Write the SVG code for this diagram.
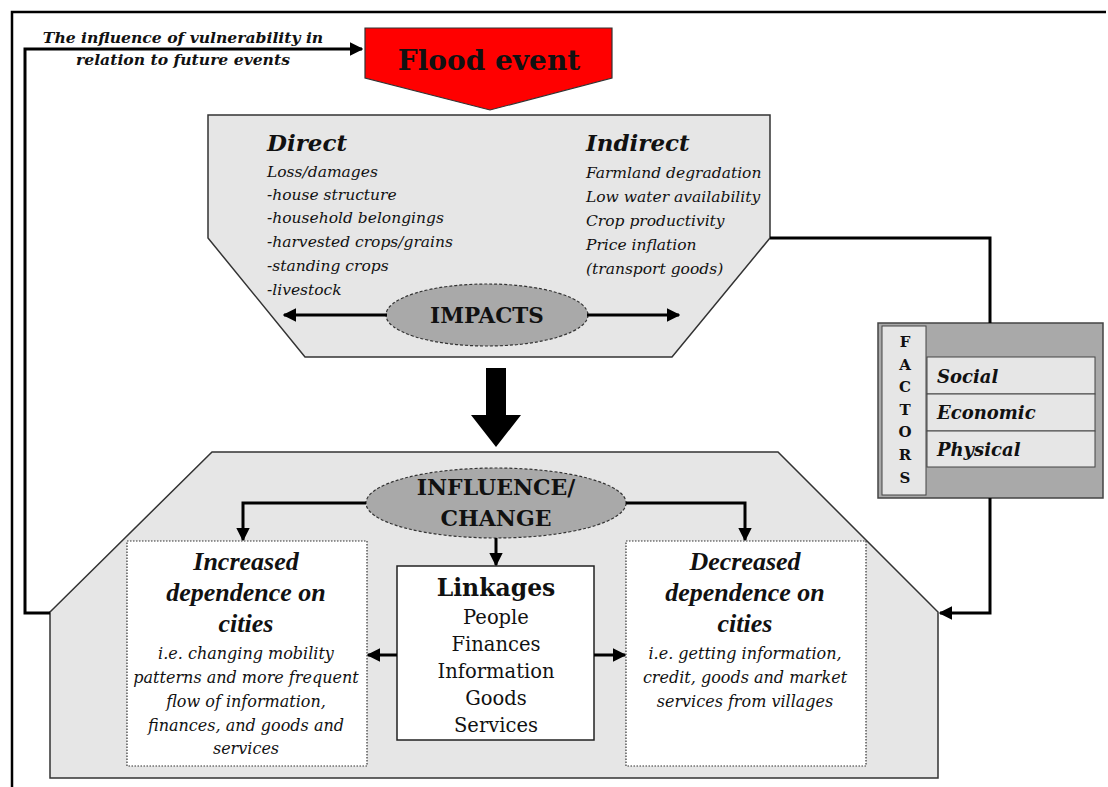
<svg xmlns="http://www.w3.org/2000/svg" width="1108" height="787" viewBox="0 0 1108 787">
  <defs>
    <style>
      .t { font-family: "DejaVu Serif", "Liberation Serif", serif; fill: #111; }
      .h { font-family: "Liberation Serif", "DejaVu Serif", serif; fill: #111; }
      .it { font-style: italic; }
      .b { font-weight: bold; }
      .c { text-anchor: middle; }
      .hex { fill: #e6e6e6; stroke: #333; stroke-width: 1.5; }
      .oval { fill: #a9a9a9; stroke: #333; stroke-width: 1.2; stroke-dasharray: 3 2; }
      .wire { fill: none; stroke: #000; stroke-width: 3; }
      .dotbox { fill: #fff; stroke: #333; stroke-width: 1.2; stroke-dasharray: 1.5 1.5; }
    </style>
    <marker id="ah" viewBox="0 0 10 10" refX="9" refY="5" markerWidth="4.5" markerHeight="4.5" orient="auto" markerUnits="strokeWidth">
      <path d="M0,0 L10,5 L0,10 z" fill="#000"/>
    </marker>
  </defs>

  <rect width="1108" height="787" fill="#fff"/>
  <!-- outer frame -->
  <path d="M12,787 V12 H1106" fill="none" stroke="#000" stroke-width="2.5"/>

  <!-- impacts panel -->
  <g id="impacts">
    <polygon class="hex" points="208,115 770,115 770,238 672,357 305,357 208,238"/>
    <text class="t it b" x="267" y="151" font-size="23">Direct</text>
    <g class="t it" font-size="15.5">
      <text x="267" y="177">Loss/damages</text>
      <text x="267" y="200">-house structure</text>
      <text x="267" y="223">-household belongings</text>
      <text x="267" y="247">-harvested crops/grains</text>
      <text x="267" y="271">-standing crops</text>
      <text x="267" y="295">-livestock</text>
    </g>
    <text class="t it b" x="586" y="151" font-size="23">Indirect</text>
    <g class="t it" font-size="15.5">
      <text x="586" y="178">Farmland degradation</text>
      <text x="586" y="202">Low water availability</text>
      <text x="586" y="226">Crop productivity</text>
      <text x="586" y="250">Price inflation</text>
      <text x="586" y="274">(transport goods)</text>
    </g>
    <ellipse class="oval" cx="487" cy="315" rx="101" ry="31"/>
    <text class="t b c" x="487" y="323" font-size="21.5">IMPACTS</text>
  </g>

  <!-- flood event -->
  <g id="flood-event">
    <polygon points="365,28 612,28 612,78 490,110 365,78" fill="#ff0000" stroke="#333" stroke-width="1.2"/>
    <text class="t b c" x="489" y="70" font-size="28">Flood event</text>
  </g>

  <!-- feedback label -->
  <g id="feedback-label" class="t it b c" font-size="15.6">
    <text x="183" y="43">The influence of vulnerability in</text>
    <text x="183" y="65">relation to future events</text>
  </g>

  <!-- influence panel -->
  <g id="influence">
    <polygon class="hex" points="50,612 212,452 778,452 938,612 938,778 50,778"/>
  </g>

  <g id="increased">
    <rect class="dotbox" x="127" y="541" width="240" height="225"/>
    <g class="h it b c" font-size="26">
      <text x="246" y="570">Increased</text>
      <text x="246" y="601">dependence on</text>
      <text x="246" y="632">cities</text>
    </g>
    <g class="t it c" font-size="16">
      <text x="246" y="659">i.e. changing mobility</text>
      <text x="246" y="683">patterns and more frequent</text>
      <text x="246" y="707">flow of information,</text>
      <text x="246" y="731">finances, and goods and</text>
      <text x="246" y="754">services</text>
    </g>
  </g>

  <g id="decreased">
    <rect class="dotbox" x="626" y="541" width="240" height="225"/>
    <g class="h it b c" font-size="26">
      <text x="745" y="570">Decreased</text>
      <text x="745" y="601">dependence on</text>
      <text x="745" y="632">cities</text>
    </g>
    <g class="t it c" font-size="16">
      <text x="745" y="659">i.e. getting information,</text>
      <text x="745" y="683">credit, goods and market</text>
      <text x="745" y="707">services from villages</text>
    </g>
  </g>

  <g id="linkages">
    <rect x="397" y="566" width="197" height="174" fill="#fff" stroke="#222" stroke-width="1.5"/>
    <text class="t b c" x="496" y="596" font-size="23.5">Linkages</text>
    <g class="t c" font-size="19.5">
      <text x="496" y="624">People</text>
      <text x="496" y="651">Finances</text>
      <text x="496" y="678">Information</text>
      <text x="496" y="705">Goods</text>
      <text x="496" y="732">Services</text>
    </g>
  </g>

  <g id="influence-change">
    <ellipse class="oval" cx="496" cy="503" rx="130" ry="35"/>
    <g class="t b c" font-size="22">
      <text x="496" y="495">INFLUENCE/</text>
      <text x="496" y="526">CHANGE</text>
    </g>
  </g>

  <!-- factors -->
  <g id="factors">
    <rect x="878" y="323" width="225" height="175" fill="#a9a9a9" stroke="#444" stroke-width="1.5"/>
    <rect x="882" y="326" width="44" height="169" fill="#e6e6e6" stroke="#444" stroke-width="1"/>
    <rect x="927" y="357" width="168" height="37" fill="#e6e6e6" stroke="#444" stroke-width="1"/>
    <rect x="927" y="394" width="168" height="37" fill="#e6e6e6" stroke="#444" stroke-width="1"/>
    <rect x="927" y="431" width="168" height="36" fill="#e6e6e6" stroke="#444" stroke-width="1"/>
    <g class="t b c" font-size="15">
      <text x="905" y="347">F</text>
      <text x="905" y="370">A</text>
      <text x="905" y="392">C</text>
      <text x="905" y="415">T</text>
      <text x="905" y="437">O</text>
      <text x="905" y="460">R</text>
      <text x="905" y="483">S</text>
    </g>
    <g class="t it b" font-size="18">
      <text x="937" y="383">Social</text>
      <text x="937" y="419">Economic</text>
      <text x="937" y="456">Physical</text>
    </g>
  </g>

  <!-- connectors -->
  <g id="connectors">
    <path class="wire" d="M50,613 H25 V49 H362" marker-end="url(#ah)"/>
    <path class="wire" d="M387,315 H284" marker-end="url(#ah)"/>
    <path class="wire" d="M587,315 H679" marker-end="url(#ah)"/>
    <path class="wire" d="M770,238 H990 V323"/>
    <path class="wire" d="M990,498 V613 H940" marker-end="url(#ah)"/>
    <path d="M486,368 H506 V415 H521 L496,447 L471,415 H486 Z" fill="#000"/>
    <path class="wire" d="M366,503 H243 V540" marker-end="url(#ah)"/>
    <path class="wire" d="M626,503 H745 V540" marker-end="url(#ah)"/>
    <path class="wire" stroke-width="2.5" d="M496,538 V565" marker-end="url(#ah)"/>
    <path class="wire" stroke-width="2.5" d="M397,655 H368" marker-end="url(#ah)"/>
    <path class="wire" stroke-width="2.5" d="M594,655 H625" marker-end="url(#ah)"/>
  </g>
</svg>
